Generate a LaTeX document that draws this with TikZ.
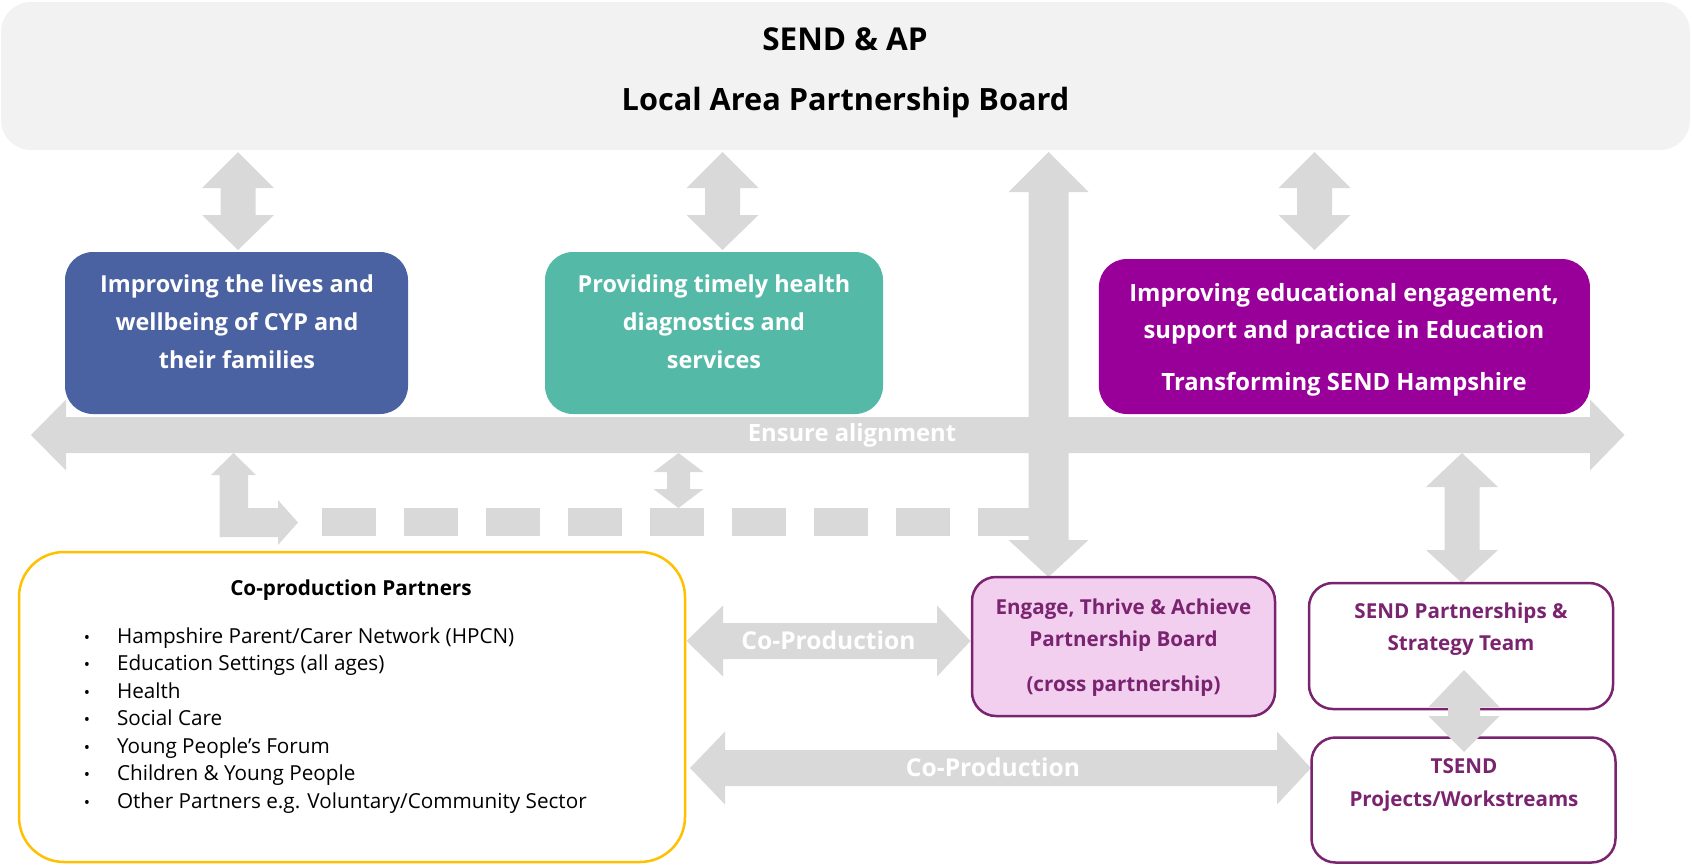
\documentclass[tikz,border=0pt]{standalone}
\usepackage{fontspec}
\setmainfont{Open Sans}
\usetikzlibrary{calc}
\definecolor{arrowgray}{HTML}{D9D9D9}
\definecolor{topfill}{HTML}{F2F2F2}
\definecolor{boxblue}{HTML}{4A62A2}
\definecolor{boxteal}{HTML}{55B9A8}
\definecolor{boxpurple}{HTML}{990099}
\definecolor{boxpink}{HTML}{F2CEEF}
\definecolor{darkpurple}{HTML}{7A2470}
\definecolor{coyellow}{HTML}{FFC000}
\newcommand\vdblarrow[7]{\fill[arrowgray] (#1,#2) -- (#1+#6,#3) -- (#1+#7,#3) -- (#1+#7,#4) -- (#1+#6,#4) -- (#1,#5) -- (#1-#6,#4) -- (#1-#7,#4) -- (#1-#7,#3) -- (#1-#6,#3) -- cycle;}
\newcommand\hdblarrow[7]{\fill[arrowgray] (#2,#1) -- (#3,#1-#6) -- (#3,#1-#7) -- (#4,#1-#7) -- (#4,#1-#6) -- (#5,#1) -- (#4,#1+#6) -- (#4,#1+#7) -- (#3,#1+#7) -- (#3,#1+#6) -- cycle;}
\begin{document}
\begin{tikzpicture}[x=1pt,y=-1pt,
  every node/.style={inner sep=0pt, outer sep=0pt},
  topbox/.style={fill=topfill, rounded corners=30pt},
  themebox/.style={rounded corners=28pt},
  purplebox/.style={draw=darkpurple, line width=2.5pt, rounded corners=24pt},
  toptxt/.style={anchor=base, font=\bfseries\fontsize{30.7}{34}\selectfont, text=black},
  themetxt/.style={anchor=base, font=\bfseries\fontsize{23.4}{25}\selectfont, text=white},
  edutxt/.style={anchor=base, font=\bfseries\fontsize{23.8}{26}\selectfont, text=white},
  ptxt/.style={anchor=base, font=\bfseries\fontsize{20.6}{23}\selectfont, text=darkpurple},
  listtxt/.style={font=\fontsize{20.7}{24}\selectfont, text=black},
  arrtxt/.style={anchor=base, font=\bfseries\fontsize{24.6}{27}\selectfont, text=white}
]
\useasboundingbox (0,0) rectangle (1692,865);

% top board
\node[topbox, minimum width=1689pt, minimum height=148pt] (board) at (845.5,76) {};
\node[toptxt, font=\bfseries\fontsize{31.5}{34}\selectfont] (boardA) at (845,50) {SEND \& AP};
\node[toptxt] (boardB) at (845.5,110.5) {Local Area Partnership Board};

% gray block arrows
\vdblarrow{238}{152}{188}{215}{250}{36}{17.5}
\vdblarrow{722.5}{152}{188}{215}{250}{36}{17.5}
\vdblarrow{1314.5}{152}{188}{215}{250}{36}{17.5}
\vdblarrow{1048.5}{152}{192}{540}{577}{40}{20}
\vdblarrow{1462}{453}{487}{550}{583}{36}{17.5}
\vdblarrow{678.5}{453}{472}{489}{508}{25}{11.5}
\hdblarrow{435}{31}{66}{1590}{1624.5}{35.5}{18}
\hdblarrow{641}{686.5}{723}{937}{970.5}{35.5}{18}
\hdblarrow{768}{690}{725}{1277}{1311}{36.5}{18}
% L-shaped arrow
\fill[arrowgray] (233.5,453) -- (256,475) -- (248,475) -- (248,508) -- (278,508) -- (278,500) -- (298,522.5) -- (278,545) -- (278,537) -- (219.5,537) -- (219.5,475) -- (211,475) -- cycle;
% dashed connector
\foreach \k in {0,...,7} {\fill[arrowgray] (322+82*\k,508) rectangle ++(54,28);}
\fill[arrowgray] (978,508) rectangle (1030,536);

\node[arrtxt, font=\bfseries\fontsize{23.8}{27}\selectfont] (align) at (852,441) {Ensure alignment};
\node[arrtxt] (cop1) at (828.5,649) {Co-Production};
\node[arrtxt] (cop2) at (993,776.5) {Co-Production};

% theme boxes
\node[themebox, fill=boxblue, minimum width=343pt, minimum height=162pt] (lives) at (236.5,333) {};
\node[themetxt] (lives1) at (237,292) {Improving the lives and};
\node[themetxt] (lives2) at (237,330) {wellbeing of CYP and};
\node[themetxt] (lives3) at (237,368) {their families};

\node[themebox, fill=boxteal, minimum width=338pt, minimum height=162pt] (health) at (714,333) {};
\node[themetxt] (health1) at (714,292) {Providing timely health};
\node[themetxt] (health2) at (714,330) {diagnostics and};
\node[themetxt] (health3) at (714,368) {services};

\node[themebox, fill=boxpurple, minimum width=491pt, minimum height=155pt] (edu) at (1344.4,336.5) {};
\node[edutxt] (edu1) at (1344,301.5) {Improving educational engagement,};
\node[edutxt] (edu2) at (1344,338.5) {support and practice in Education};
\node[edutxt] (edu3) at (1344,390.5) {Transforming SEND Hampshire};

% co-production partners
\node[draw=coyellow, line width=2.5pt, rounded corners=45pt, fill=white, minimum width=666pt, minimum height=310pt] (partners) at (352,707) {};
\node[anchor=base, font=\bfseries\fontsize{20.7}{24}\selectfont] (ptitle) at (351,595) {Co-production Partners};
\foreach \txt [count=\i from 0] in {Hampshire Parent/Carer Network (HPCN), Education Settings (all ages), Health, Social Care, Young People’s Forum, Children \& Young People, Other Partners e.g. Voluntary/Community Sector} {
  \node[listtxt, anchor=base west] (item\i) at (117,643+27.5*\i) {\txt};
  \node[listtxt, anchor=base] (bul\i) at (87,643+27.5*\i) {\scalebox{0.8}{\textbullet}};
}

% purple-edged boxes
\node[purplebox, fill=boxpink, minimum width=303pt, minimum height=139pt] (eta) at (1123.5,646.5) {};
\node[ptxt] (eta1) at (1123.5,614) {Engage, Thrive \& Achieve};
\node[ptxt] (eta2) at (1123.5,646) {Partnership Board};
\node[ptxt] (eta3) at (1123.5,691.5) {(cross partnership)};

\node[purplebox, fill=white, minimum width=304pt, minimum height=126pt] (spst) at (1461,646) {};
\node[ptxt] (spst1) at (1461,618) {SEND Partnerships \&};
\node[ptxt] (spst2) at (1461,650) {Strategy Team};

\node[purplebox, fill=white, minimum width=304pt, minimum height=125pt] (tsend) at (1463.5,800) {};
\node[ptxt] (tsend1) at (1464,773) {TSEND};
\node[ptxt] (tsend2) at (1464,806) {Projects/Workstreams};

\vdblarrow{1464}{670}{707}{716}{752}{35.5}{16}
\end{tikzpicture}
\end{document}
